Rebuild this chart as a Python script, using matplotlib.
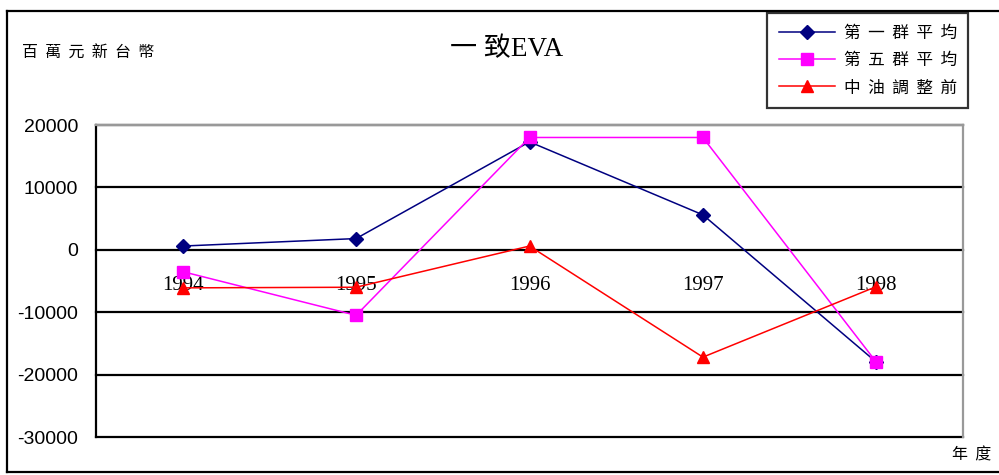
import matplotlib
matplotlib.use("Agg")
import matplotlib.pyplot as plt
from matplotlib.lines import Line2D

plt.rcParams['font.family'] = ['Noto Sans CJK TC', 'DejaVu Sans']

years = ["1994", "1995", "1996", "1997", "1998"]
group1_avg = [600, 1800, 17300, 5600, -18000]
group5_avg = [-3500, -10500, 18000, 18000, -18000]
cpc_before = [-6100, -6000, 600, -17200, -5900]
series_labels = ["第  一  群  平  均", "第  五  群  平  均", "中  油  調  整  前"]
y_ticks = [20000, 10000, 0, -10000, -20000, -30000]

W, H = 999, 475
fig = plt.figure(figsize=(W / 100, H / 100), dpi=100)
ax = fig.add_axes([96 / W, (H - 437) / H, (963 - 96) / W, (437 - 125) / H])

x = list(range(len(years)))
ax.plot(x, group1_avg, color="#000080", lw=1.1, marker="D", ms=7,
        label=series_labels[0], zorder=4)
ax.plot(x, group5_avg, color="#FF00FF", lw=1.1, marker="s", ms=8,
        label=series_labels[1], zorder=4)
ax.plot(x, cpc_before, color="#FF0000", lw=1.1, marker="^", ms=9,
        label=series_labels[2], zorder=4)

# Category axis crosses at zero, its line hidden behind the zero gridline
ax.spines["bottom"].set_position(("data", 0))
ax.spines["bottom"].set_visible(False)

ax.set_xlim(-0.5, len(years) - 0.5)
ax.set_ylim(-30000, 20000)
ax.set_yticks(y_ticks, [f"{v}" for v in y_ticks])
ax.tick_params(axis="y", length=0, pad=13, labelsize=14,
               labelfontfamily="Liberation Sans")
for v in y_ticks:
    ax.axhline(v, color="black", lw=1.6, zorder=2, clip_on=False)

ax.set_xticks(x, years)
ax.tick_params(axis="x", length=0, pad=19, labelsize=15,
               labelfontfamily="Liberation Serif")

ax.spines["left"].set_color("black")
ax.spines["left"].set_linewidth(1.6)
for s in ("top", "right"):
    ax.spines[s].set_color("#999999")
    ax.spines[s].set_linewidth(1.6)

# Title and annotations
fig.text(507 / W, 1 - 50 / H, "一 致EVA", ha="center", va="center",
         fontsize=19.5, family=["Liberation Serif", "Noto Sans CJK TC"])
fig.text(22 / W, 1 - 53 / H, "百  萬  元  新  台  幣", ha="left", va="center",
         fontsize=11.5)
fig.text(991 / W, 1 - 455 / H, "年  度", ha="right", va="center", fontsize=11.5)

# Legend box
leg = fig.legend(loc="upper left", bbox_to_anchor=(767 / W, 1 - 13 / H),
                 frameon=True, fancybox=False, fontsize=12,
                 handlelength=3.4, labelspacing=0.62, borderpad=0.7,
                 handletextpad=0.5, borderaxespad=0)
leg.get_frame().set_edgecolor("black")
leg.get_frame().set_linewidth(1.6)

# Outer chart frame
for xs, ys in (([7, 7], [11, 472]), ([7, 1005], [11, 11]), ([7, 1005], [472, 472])):
    fig.add_artist(Line2D([v / W for v in xs], [1 - v / H for v in ys],
                          color="black", lw=1.6))

fig.savefig("out.png", dpi=100)
